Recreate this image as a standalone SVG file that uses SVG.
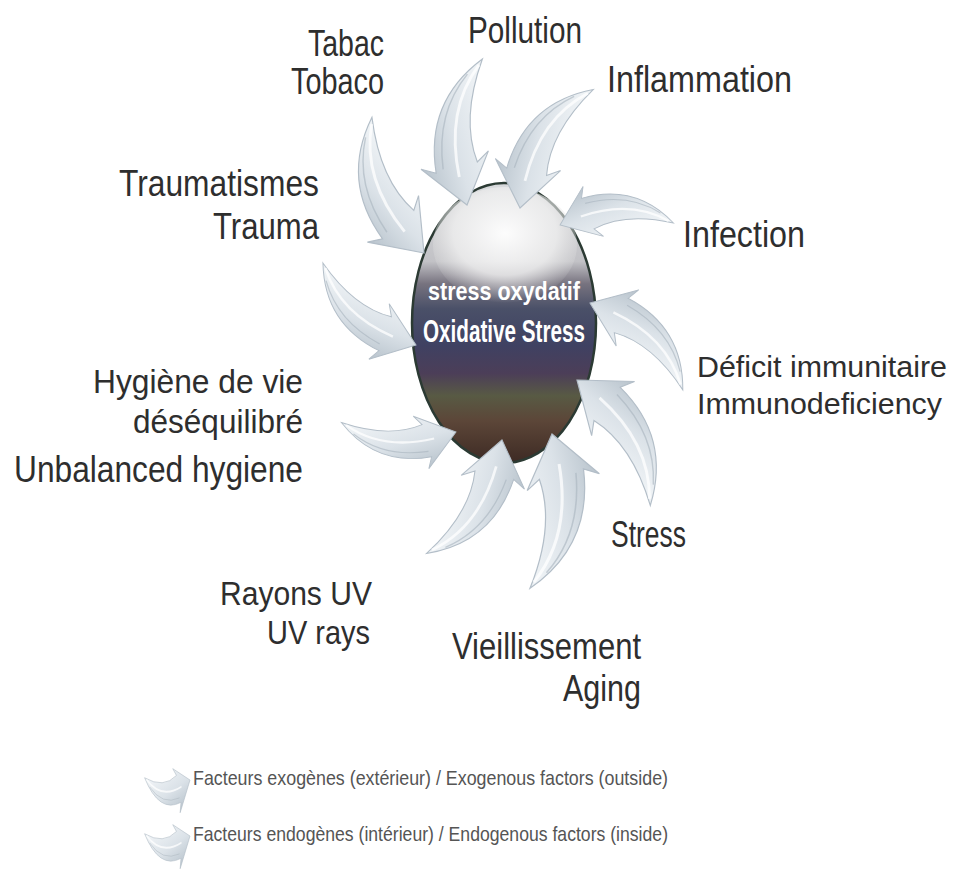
<svg xmlns="http://www.w3.org/2000/svg" xmlns:xlink="http://www.w3.org/1999/xlink" width="960" height="894" viewBox="0 0 960 894">
<defs>
<style>
.lbl{font-family:"Liberation Sans",Arial,sans-serif;fill:#2e2e2e;font-size:36px}
.ctr{font-family:"Liberation Sans",Arial,sans-serif;fill:#ffffff;font-weight:bold}
.leg{font-family:"Liberation Sans",Arial,sans-serif;fill:#555555;font-size:21px}
.body{fill:url(#arrFill);stroke:#b3bec8;stroke-width:1.2}
.hl{fill:none;stroke:#ffffff;stroke-width:3;opacity:0.75}
.sh{fill:none;stroke:#a9b4be;stroke-width:1.5;opacity:0.6}
</style>
<linearGradient id="arrFill" gradientUnits="userSpaceOnUse" x1="0" y1="-45" x2="0" y2="35">
<stop offset="0" stop-color="#eef2f5"/>
<stop offset="0.5" stop-color="#dbe2e8"/>
<stop offset="1" stop-color="#b9c4cd"/>
</linearGradient>
<linearGradient id="blobFill" x1="0" y1="0" x2="0" y2="1">
<stop offset="0" stop-color="#d8dadc"/>
<stop offset="0.28" stop-color="#c2c2c6"/>
<stop offset="0.36" stop-color="#77737f"/>
<stop offset="0.45" stop-color="#4a5068"/>
<stop offset="0.58" stop-color="#3f4162"/>
<stop offset="0.68" stop-color="#4c3e58"/>
<stop offset="0.76" stop-color="#585a44"/>
<stop offset="0.85" stop-color="#5c4638"/>
<stop offset="1" stop-color="#3d2a24"/>
</linearGradient>
<radialGradient id="hiFill" cx="0.5" cy="0.4" r="0.6">
<stop offset="0" stop-color="#ffffff" stop-opacity="0.95"/>
<stop offset="0.6" stop-color="#f0f0f0" stop-opacity="0.8"/>
<stop offset="1" stop-color="#e0e0e0" stop-opacity="0"/>
</radialGradient>
<g id="arr">
<path class="body" d="M0,0 L-48,36 L-40,22 Q-114,14 -141,-55 Q-87,-17 -40,-22 L-48,-36 Z"/>
<path class="sh" d="M-130,-36 Q-100,6 -42,14"/>
<path class="hl" d="M-136,-50 Q-100,-4 -30,0"/>
</g>
</defs>
<rect width="960" height="894" fill="#ffffff"/>

<g id="center">
<ellipse cx="504" cy="323" rx="92" ry="140" fill="url(#blobFill)" stroke="#2b3a33" stroke-width="2.5"/>
<ellipse cx="505" cy="245" rx="72" ry="58" fill="url(#hiFill)"/>
</g>

<g id="connectors">
<use xlink:href="#arr" href="#arr" transform="translate(424,253) rotate(47.7) scale(0.96)"/>
<use xlink:href="#arr" href="#arr" transform="translate(416,345) rotate(20.1) scale(0.82)"/>
<use xlink:href="#arr" href="#arr" transform="translate(456,432) rotate(343.4) scale(0.76)"/>
<use xlink:href="#arr" href="#arr" transform="translate(502,440) rotate(282.3) scale(0.9)"/>
<use xlink:href="#arr" href="#arr" transform="translate(552,434) rotate(256.8) scale(1.03)"/>
<use xlink:href="#arr" href="#arr" transform="translate(577,380) rotate(218.4) scale(0.96)"/>
<use xlink:href="#arr" href="#arr" transform="translate(590,303) rotate(201.8) scale(0.84)"/>
<use xlink:href="#arr" href="#arr" transform="translate(560,225) rotate(157.7) scale(0.75)"/>
<use xlink:href="#arr" href="#arr" transform="translate(520,208) rotate(100.4) scale(0.92)"/>
<use xlink:href="#arr" href="#arr" transform="translate(467,205) rotate(74.7) scale(0.97)"/>
</g>

<g id="center-label">
<text class="ctr" x="428" y="300" style="font-size:26px" textLength="152" lengthAdjust="spacingAndGlyphs">stress oxydatif</text>
<text class="ctr" x="423" y="342" style="font-size:31px" textLength="162" lengthAdjust="spacingAndGlyphs">Oxidative Stress</text>
</g>

<g id="n-tabac">
<text class="lbl" x="308" y="56" textLength="76" lengthAdjust="spacingAndGlyphs">Tabac</text>
<text class="lbl" x="291" y="94" textLength="93" lengthAdjust="spacingAndGlyphs">Tobaco</text>
</g>
<g id="n-pollution">
<text class="lbl" x="468" y="43" textLength="114" lengthAdjust="spacingAndGlyphs">Pollution</text>
</g>
<g id="n-inflammation">
<text class="lbl" x="607" y="92" textLength="185" lengthAdjust="spacingAndGlyphs">Inflammation</text>
</g>
<g id="n-trauma">
<text class="lbl" x="119" y="196" textLength="200" lengthAdjust="spacingAndGlyphs">Traumatismes</text>
<text class="lbl" x="213" y="239" textLength="106" lengthAdjust="spacingAndGlyphs">Trauma</text>
</g>
<g id="n-infection">
<text class="lbl" x="683" y="247" textLength="122" lengthAdjust="spacingAndGlyphs">Infection</text>
</g>
<g id="n-deficit">
<text class="lbl" x="697" y="377" style="font-size:29px" textLength="250" lengthAdjust="spacingAndGlyphs">Déficit immunitaire</text>
<text class="lbl" x="697" y="414" style="font-size:29px" textLength="245" lengthAdjust="spacingAndGlyphs">Immunodeficiency</text>
</g>
<g id="n-hygiene">
<text class="lbl" x="93" y="393" style="font-size:34px" textLength="210" lengthAdjust="spacingAndGlyphs">Hygiène de vie</text>
<text class="lbl" x="133" y="433" style="font-size:34px" textLength="170" lengthAdjust="spacingAndGlyphs">déséquilibré</text>
<text class="lbl" x="14" y="482" textLength="289" lengthAdjust="spacingAndGlyphs">Unbalanced hygiene</text>
</g>
<g id="n-stress">
<text class="lbl" x="611" y="547" textLength="75" lengthAdjust="spacingAndGlyphs">Stress</text>
</g>
<g id="n-uv">
<text class="lbl" x="220" y="605" style="font-size:34px" textLength="152" lengthAdjust="spacingAndGlyphs">Rayons UV</text>
<text class="lbl" x="267" y="644" style="font-size:34px" textLength="103" lengthAdjust="spacingAndGlyphs">UV rays</text>
</g>
<g id="n-aging">
<text class="lbl" x="452" y="659" textLength="189" lengthAdjust="spacingAndGlyphs">Vieillissement</text>
<text class="lbl" x="563" y="701" textLength="78" lengthAdjust="spacingAndGlyphs">Aging</text>
</g>

<g id="legend">
<use xlink:href="#arr" href="#arr" transform="translate(190,780) scale(0.3,0.65) rotate(-20)"/>
<text class="leg" x="193" y="785" textLength="475" lengthAdjust="spacingAndGlyphs">Facteurs exogènes (extérieur) / Exogenous factors (outside)</text>
<use xlink:href="#arr" href="#arr" transform="translate(190,836) scale(0.3,0.65) rotate(-20)"/>
<text class="leg" x="193" y="841" textLength="475" lengthAdjust="spacingAndGlyphs">Facteurs endogènes (intérieur) / Endogenous factors (inside)</text>
</g>
</svg>
